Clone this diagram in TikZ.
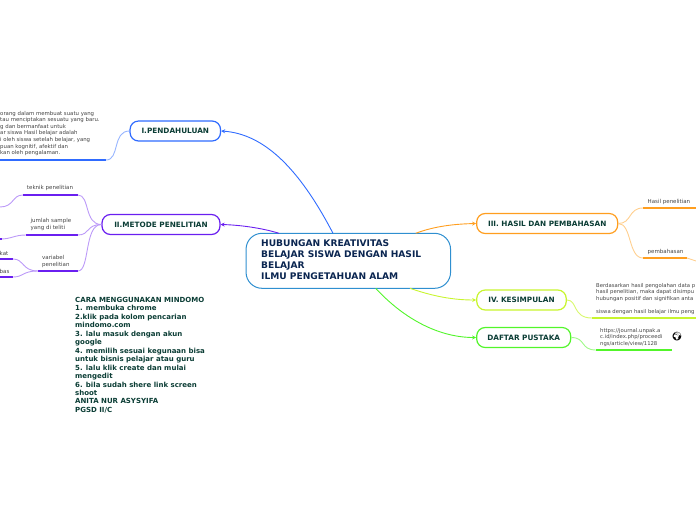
\documentclass[tikz,border=0pt]{standalone}
\usepackage{fontspec}
\setmainfont{DejaVu Sans}
\newfontfamily\emojifont{Noto Emoji}
\usetikzlibrary{arrows.meta}
\definecolor{tealtxt}{HTML}{0B3D35}
\definecolor{navy}{HTML}{0A2550}
\definecolor{cblue}{HTML}{2F6BFF}
\definecolor{cpurp}{HTML}{6A1FF0}
\definecolor{corange}{HTML}{FF9E1F}
\definecolor{cyell}{HTML}{C8F52E}
\definecolor{cgreen}{HTML}{52F52A}
\definecolor{ctopic}{HTML}{2F8FD0}
\definecolor{gtxt}{HTML}{444444}
\tikzset{x=1pt,y=-1pt,
 topicbox/.style={draw=#1,line width=1.2pt,rounded corners=8.5pt,fill=white,minimum height=20pt,inner sep=0pt,font=\fontsize{7.3}{8}\selectfont\bfseries,text=tealtxt,anchor=center},
 small/.style={font=\fontsize{5.5}{7}\selectfont,text=gtxt,align=left,inner sep=0pt},
 main/.style={->,>={Stealth[length=4pt,width=4pt]},line width=.9pt},
 link/.style={line width=.9pt},
 bar/.style={line width=2pt}}
\begin{document}
\begin{tikzpicture}
\useasboundingbox (0,0) rectangle (696,520);
\clip (0,0) rectangle (696,520);
\node[draw=ctopic,line width=1pt,rounded corners=16pt,minimum width=204.5pt,minimum height=55pt,inner sep=0pt] (root) at (348.3,260.8) {};
\node[font=\fontsize{9.1}{11}\selectfont\bfseries,text=navy,align=left,anchor=north west,inner sep=0pt] (roottxt) at (261,239.5) {HUBUNGAN KREATIVITAS\\BELAJAR SISWA DENGAN HASIL\\BELAJAR\\ILMU PENGETAHUAN ALAM};
\node[topicbox=cblue,minimum width=90.5pt] (t1) at (175.3,131) {I.PENDAHULUAN};
\node[topicbox=cpurp,minimum width=118pt] (t2) at (161,224.5) {II.METODE PENELITIAN};
\node[topicbox=corange,minimum width=141pt] (t3) at (547.2,223.5) {III. HASIL DAN PEMBAHASAN};
\node[topicbox=cyell,minimum width=89.5pt] (t4) at (521.5,300) {IV. KESIMPULAN};
\node[topicbox=cgreen,minimum width=94pt] (t5) at (523.7,337.5) {DAFTAR PUSTAKA};
\coordinate (r1) at (333,233.3);
\coordinate (r2) at (279,233.3);
\coordinate (r3) at (415.7,233.3);
\coordinate (r4) at (410,288.3);
\coordinate (r5) at (375.7,288.3);
\draw[main,cblue] (r1) .. controls (300,170) and (265,134) .. (t1.east);
\draw[main,cpurp] (r2) .. controls (262,228) and (240,225) .. (t2.east);
\draw[main,corange] (r3) .. controls (435,226) and (455,224) .. (t3.west);
\draw[main,cyell] (r4) .. controls (435,297) and (455,300) .. (t4.west);
\draw[main,cgreen] (r5) .. controls (405,320) and (440,337.5) .. (t5.west);
% I
\coordinate (a1) at (0,160);\coordinate (a2) at (106,160);
\draw[bar,cblue] (a1) -- (a2);
\draw[link,cblue!50] (a2) .. controls (120,160) and (112,131) .. (t1.west);
\node[small,anchor=north west,font=\fontsize{5.4}{6.55}\selectfont] (pt) at (0,111) {orang dalam membuat suatu yang\\tau menciptakan sesuatu yang baru.\\g dan bermanfaat untuk\\ar siswa Hasil belajar adalah\\i oleh siswa setelah belajar, yang\\puan kognitif, afektif dan\\kan oleh pengalaman.};
% II
\coordinate (b1) at (23,195);\coordinate (b2) at (78,195);
\coordinate (c1) at (26,235);\coordinate (c2) at (78,235);
\coordinate (d1) at (38,271);\coordinate (d2) at (78,271);
\draw[bar,cpurp] (b1) -- (b2);\draw[bar,cpurp] (c1) -- (c2);\draw[bar,cpurp] (d1) -- (d2);
\draw[link,cpurp!45] (b2) .. controls (90,195) and (84,224.5) .. (t2.west);
\draw[link,cpurp!45] (c2) .. controls (90,235) and (86,224.5) .. (t2.west);
\draw[link,cpurp!45] (d2) .. controls (90,271) and (84,224.5) .. (t2.west);
\node[small,anchor=center] (tp) at (50,188) {teknik penelitian};
\node[small,anchor=north west] (js) at (30.5,218.5) {jumlah sample\\yang di teliti};
\node[small,anchor=north west] (vp) at (42,255) {variabel\\penelitian};
\coordinate (b0) at (0,207);\coordinate (c0) at (0,239);
\draw[link,cpurp!45] (b1) .. controls (12,195) and (14,207) .. (b0);
\draw[link,cpurp!45] (c1) .. controls (14,235) and (12,239) .. (c0);
\draw[bar,cpurp] (c0) -- ++(2,0);
\coordinate (e2) at (13,259);\coordinate (f2) at (13,277);\coordinate (e0) at (0,259);\coordinate (f0) at (0,277);
\draw[bar,cpurp] (e0) -- (e2);\draw[bar,cpurp] (f0) -- (f2);
\draw[link,cpurp!45] (e2) .. controls (24,259) and (22,271) .. (d1);
\draw[link,cpurp!45] (f2) .. controls (24,277) and (22,271) .. (d1);
\node[small,anchor=west] (kt) at (-.5,253) {kat};
\node[small,anchor=west] (bs) at (-.5,271) {bas};
% III
\coordinate (g1) at (643,208);\coordinate (g2) at (696,208);
\coordinate (h1) at (643,258);\coordinate (h2) at (687,258);
\draw[bar,corange] (g1) -- (g2);\draw[bar,corange] (h1) -- (h2);
\draw[link,corange!50] (t3.east) .. controls (632,223.5) and (628,208) .. (g1);
\draw[link,corange!50] (t3.east) .. controls (632,223.5) and (628,258) .. (h1);
\draw[link,corange!50] (h2) -- ++(9,3);
\node[small,anchor=west] (hp) at (647.5,202) {Hasil penelitian};
\node[small,anchor=west] (pb) at (647.5,252) {pembahasan};
% IV
\coordinate (i1) at (592,318);\coordinate (i2) at (696,318);
\draw[bar,cyell] (i1) -- (i2);
\draw[link,cyell!70] (t4.east) .. controls (578,300) and (572,318) .. (i1);
\node[small,anchor=north west,font=\fontsize{5.3}{6.6}\selectfont] (kes) at (596,283) {Berdasarkan hasil pengolahan data p\\hasil penelitian, maka dapat disimpu\\hubungan positif dan signifikan anta\\[6.6pt]siswa dengan hasil belajar ilmu peng};
% V
\coordinate (j1) at (596,350);\coordinate (j2) at (672,350);
\draw[bar,cgreen] (j1) -- (j2);
\draw[link,cgreen!55] (t5.east) .. controls (586,337.5) and (580,350) .. (j1);
\node[small,anchor=north west,font=\fontsize{5.3}{6.5}\selectfont] (url) at (600,328) {https://journal.unpak.a\\c.id/index.php/proceedi\\ngs/article/view/1128};
\node[font=\fontsize{8.5}{8.5}\selectfont\emojifont,text=black,inner sep=0pt] (globe) at (677,337) {\char"1F30D};
% notes
\node[font=\fontsize{7}{8.46}\selectfont\bfseries,text=tealtxt,align=left,anchor=north west,inner sep=0pt] (notes) at (75,297) {CARA MENGGUNAKAN MINDOMO\\1. membuka chrome\\2.klik pada kolom pencarian\\mindomo.com\\3. lalu masuk dengan akun\\google\\4. memilih  sesuai kegunaan bisa\\untuk bisnis pelajar atau guru\\5. lalu klik create dan mulai\\mengedit\\6. bila sudah shere link screen\\shoot\\ANITA NUR ASYSYIFA\\PGSD II/C};
\end{tikzpicture}
\end{document}
